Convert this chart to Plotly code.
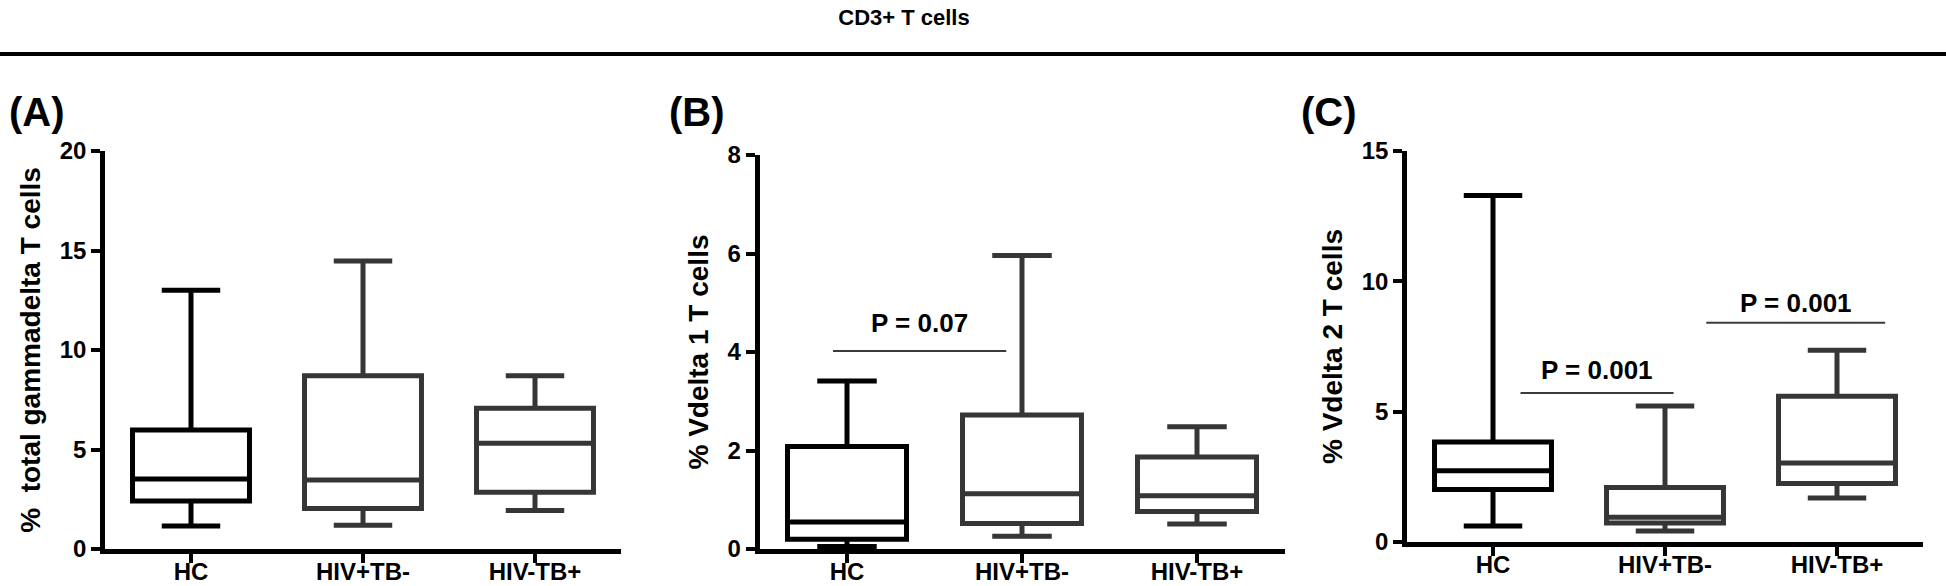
import plotly.graph_objects as go

categories = ["HC", "HIV+TB-", "HIV-TB+"]

# five-number summaries per group: [min, Q1, median, Q3, max]
panel_a = {
    "HC": [1.16, 2.41, 3.52, 5.98, 13.0],
    "HIV+TB-": [1.19, 2.04, 3.47, 8.71, 14.47],
    "HIV-TB+": [1.93, 2.85, 5.31, 7.07, 8.71],
}
panel_b = {
    "HC": [0.05, 0.20, 0.55, 2.08, 3.41],
    "HIV+TB-": [0.26, 0.52, 1.12, 2.72, 5.96],
    "HIV-TB+": [0.51, 0.76, 1.08, 1.87, 2.48],
}
panel_c = {
    "HC": [0.61, 2.01, 2.73, 3.84, 13.29],
    "HIV+TB-": [0.42, 0.73, 0.95, 2.09, 5.22],
    "HIV-TB+": [1.69, 2.24, 3.03, 5.59, 7.36],
}

y_titles = ["%  total gammadelta T cells", "% Vdelta 1 T cells", "% Vdelta 2 T cells"]
y_ranges = [[0, 20], [0, 8], [0, 15]]
y_dticks = [5, 2, 5]
panel_labels = ["(A)", "(B)", "(C)"]

# significance brackets: (x_start, x_end, y_level, label_x, label_y, text) in category-index / data units
sig_b = [(-0.08, 0.91, 4.02, 0.415, 4.58, "P = 0.07")]
sig_c = [(0.16, 1.05, 5.72, 0.605, 6.6, "P = 0.001"),
         (1.24, 2.28, 8.41, 1.76, 9.18, "P = 0.001")]

W, H = 1946, 586
FONT = "Liberation Sans, Arial, sans-serif"
colors = {"HC": "#000000", "HIV+TB-": "#363636", "HIV-TB+": "#363636"}

# pixel layout of the plot areas
x_dom_px = [(105, 621), (759.5, 1284.5), (1407, 1923)]
y_dom_px = [(151, 549), (155, 549), (151, 542)]

fig = go.Figure()
panels = [panel_a, panel_b, panel_c]
for i, pdata in enumerate(panels):
    ax = "" if i == 0 else str(i + 1)
    for cat in categories:
        mn, q1, med, q3, mx = pdata[cat]
        fig.add_trace(go.Box(
            x=[cat], q1=[q1], median=[med], q3=[q3],
            lowerfence=[mn], upperfence=[mx],
            xaxis="x" + ax, yaxis="y" + ax,
            width=0.68, whiskerwidth=0.5,
            line=dict(color=colors[cat], width=5),
            fillcolor="white", boxpoints=False, showlegend=False,
        ))

layout_axes = {}
for i in range(3):
    ax = "" if i == 0 else str(i + 1)
    x0, x1 = x_dom_px[i]
    yt, yb = y_dom_px[i]
    layout_axes["xaxis" + ax] = dict(
        domain=[x0 / W, x1 / W], anchor="y" + ax, automargin=False,
        type="category", categoryorder="array", categoryarray=categories,
        range=[-0.5, 2.5], showline=True, linewidth=4.5, linecolor="black",
        ticks="outside", ticklen=9, tickwidth=4, tickcolor="black",
        ticklabelstandoff=-12,
        tickfont=dict(family=FONT, size=24, color="black", weight="bold"),
        showgrid=False, zeroline=False, fixedrange=True,
    )
    layout_axes["yaxis" + ax] = dict(
        domain=[1 - yb / H, 1 - yt / H], anchor="x" + ax, automargin=False,
        range=y_ranges[i], dtick=y_dticks[i], tick0=0,
        showline=True, linewidth=4.5, linecolor="black",
        ticks="outside", ticklen=9, tickwidth=4, tickcolor="black",
        tickfont=dict(family=FONT, size=24, color="black", weight="bold"),
        title=dict(text=y_titles[i], standoff=12,
                   font=dict(family=FONT, size=28, color="black", weight="bold")),
        showgrid=False, zeroline=False, fixedrange=True,
    )

annotations = []
label_x_px = [37, 697, 1329]
for i, lab in enumerate(panel_labels):
    annotations.append(dict(
        text=lab, x=label_x_px[i] / W, y=1 - 112 / H, xref="paper", yref="paper",
        xanchor="center", yanchor="middle", showarrow=False,
        font=dict(family=FONT, size=40, color="black", weight="bold"),
    ))

shapes = [dict(type="line", xref="paper", yref="paper", x0=0, x1=1,
               y0=1 - 54 / H, y1=1 - 54 / H, line=dict(color="black", width=4))]

for ax, sigs in (("2", sig_b), ("3", sig_c)):
    for (xs, xe, yl, lx, ly, txt) in sigs:
        shapes.append(dict(type="line", xref="x" + ax, yref="y" + ax,
                           x0=xs, x1=xe, y0=yl, y1=yl,
                           line=dict(color="#3a3a3a", width=2)))
        annotations.append(dict(text=txt, x=lx, y=ly, xref="x" + ax, yref="y" + ax,
                                xanchor="center", yanchor="middle", showarrow=False,
                                font=dict(family=FONT, size=26, color="black", weight="bold")))

fig.update_layout(
    template="none",
    width=W, height=H, autosize=False,
    margin=dict(l=0, r=0, t=0, b=0, autoexpand=False),
    paper_bgcolor="white", plot_bgcolor="white",
    boxmode="overlay",
    title=dict(text="CD3+ T cells", x=904 / W, xanchor="center",
               y=1 - 17 / H, yanchor="middle",
               font=dict(family=FONT, size=22, color="black", weight="bold")),
    annotations=annotations, shapes=shapes,
    **layout_axes,
)

fig.write_html("out.html", config={"displayModeBar": False},
               post_script="document.body.style.margin='0';document.body.style.overflow='hidden';")
